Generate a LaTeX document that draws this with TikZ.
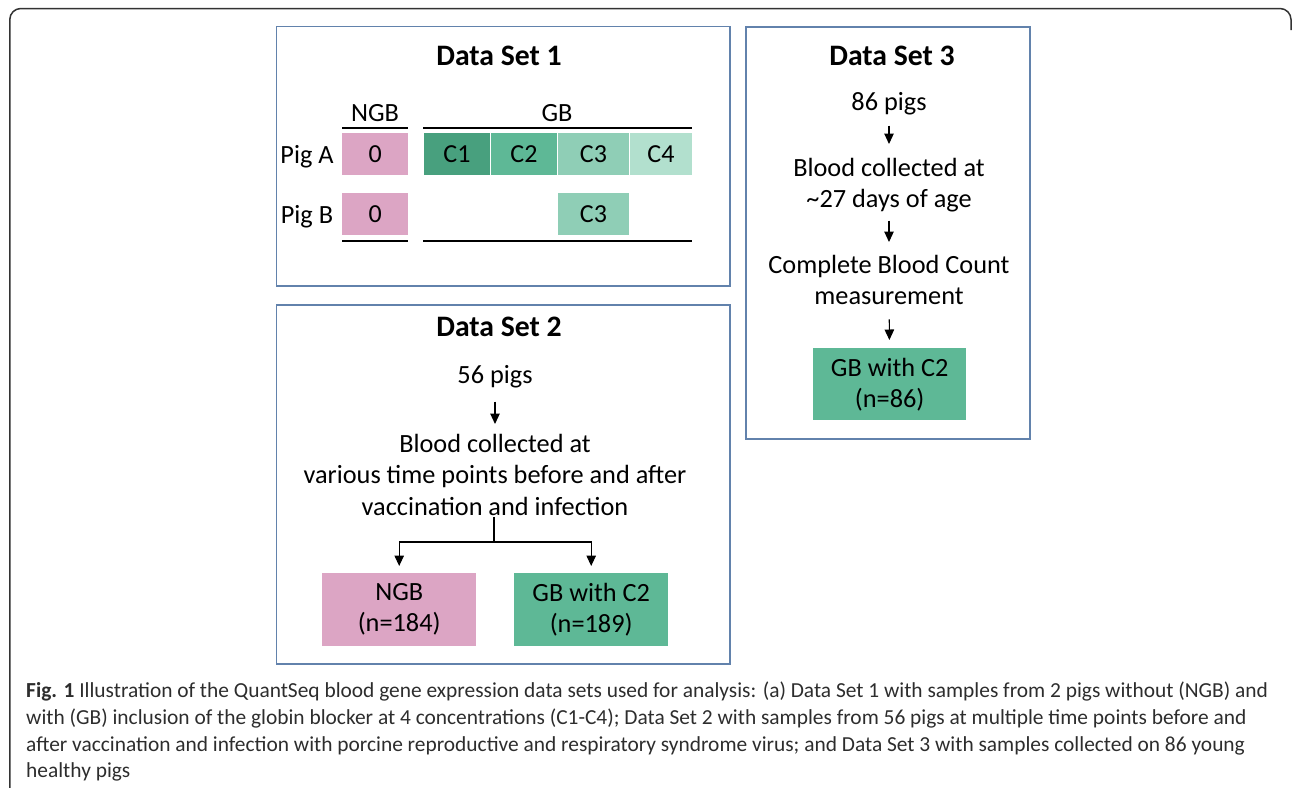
\documentclass[tikz,border=0pt]{standalone}
\usepackage{fontspec}
\setmainfont{Carlito}
\usetikzlibrary{arrows.meta,calc}
\definecolor{frameblue}{RGB}{98,130,172}
\definecolor{pinkc}{RGB}{220,165,196}
\definecolor{gone}{RGB}{72,160,126}
\definecolor{gtwo}{RGB}{94,184,150}
\definecolor{gthree}{RGB}{143,206,182}
\definecolor{gfour}{RGB}{178,224,206}
\definecolor{captext}{RGB}{45,45,45}
\begin{document}
\begin{tikzpicture}[x=1pt,y=-1pt,
  panel/.style={draw=frameblue, line width=1.6pt, fill=white, inner sep=0pt, anchor=north west},
  ttl/.style={font=\fontsize{29.7}{34}\selectfont\bfseries, inner sep=0pt},
  txt/.style={font=\fontsize{26.3}{31.5}\selectfont, inner sep=0pt, align=center},
  cell/.style={font=\fontsize{26}{31.5}\selectfont, inner sep=0pt, minimum height=42pt, anchor=north west},
  outbox/.style={font=\fontsize{26.3}{31}\selectfont, inner sep=0pt, align=center, minimum width=154pt, minimum height=73pt, anchor=north west},
  rulel/.style={line width=1.5pt},
  conn/.style={line width=1.1pt},
  arr/.style={line width=1.1pt, -{Triangle[length=10.5pt,width=9.5pt]}},
  captxt/.style={font=\fontsize{21.4}{26}\selectfont, text=captext, inner sep=0pt, anchor=base west}
]
\useasboundingbox (0,0) rectangle (1292,787);
% outer frame
\draw[line width=1.5pt, black!80, rounded corners=11pt] (9.8,800) -- (9.8,8.5) -- (1291,8.5) -- (1291,30);

% panels
\node[panel, minimum width=453.5pt, minimum height=259.5pt] (ds1) at (275.5,25.5) {};
\node[panel, minimum width=453.5pt, minimum height=359pt] (ds2) at (275.5,304) {};
\node[panel, minimum width=284pt, minimum height=412pt] (ds3) at (745,26) {};

% ---------------- Data Set 1 ----------------
\node[ttl] (t1) at (499,56) {Data Set 1};
\node[txt, anchor=base] (hngb) at (375,121) {NGB};
\node[txt, anchor=base] (hgb) at (557,121) {GB};
\node[txt, anchor=base] (pa) at (307,163) {Pig A};
\node[txt, anchor=base] (pb) at (307,223) {Pig B};
\draw[rulel] (342,128) -- (408,128);
\draw[rulel] (423,128) -- (692,128);
\draw[rulel] (342,241) -- (408,241);
\draw[rulel] (423,241) -- (692,241);
\node[cell, fill=pinkc, minimum width=66pt] (a0) at (342,133) {0};
\node[cell, fill=gone, minimum width=66.5pt] (a1) at (423.5,133) {C1};
\node[cell, fill=gtwo, minimum width=65.5pt] (a2) at (491,133) {C2};
\node[cell, fill=gthree, minimum width=71.5pt] (a3) at (557.5,133) {C3};
\node[cell, fill=gfour, minimum width=61.5pt] (a4) at (630,133) {C4};
\node[cell, fill=pinkc, minimum width=66pt] (b0) at (342,193) {0};
\node[cell, fill=gthree, minimum width=71.5pt] (b3c) at (557.5,193) {C3};

% ---------------- Data Set 2 ----------------
\node[ttl] (t2) at (499,327) {Data Set 2};
\node[txt, anchor=base] (p2) at (495,383) {56 pigs};
\node[txt, anchor=north] (b2) at (495,434) {Blood collected at\\various time points before and after\\vaccination and infection};
\node[outbox, fill=pinkc] (ngb2) at (322,573) {NGB\\(n=184)};
\node[outbox, fill=gtwo] (gb2) at (514,573) {GB with C2\\(n=189)};
\draw[arr, shorten <=14pt, shorten >=10pt] (p2) -- (b2);
\coordinate (br) at (494,542);
\draw[conn] (b2.south -| br) ++(0,1) -- (br);
\draw[arr, shorten >=7pt] (br) -| (ngb2.north);
\draw[arr, shorten >=7pt] (br) -| (gb2.north);

% ---------------- Data Set 3 ----------------
\node[ttl] (t3) at (892,56) {Data Set 3};
\node[txt, anchor=base] (p3) at (889,110) {86 pigs};
\node[txt, anchor=north] (b3) at (889,158) {Blood collected at\\\textasciitilde27 days of age};
\node[txt, anchor=north] (c3) at (889,255) {Complete Blood Count\\measurement};
\node[outbox, fill=gtwo, minimum width=153pt, minimum height=72pt] (g3) at (813,348) {GB with C2\\(n=86)};
\draw[arr, shorten <=11pt, shorten >=14pt] (p3) -- (b3);
\draw[arr, shorten <=8pt, shorten >=13pt] (b3) -- (c3);
\draw[arr, shorten <=14pt, shorten >=8pt] (c3) -- (g3);

% ---------------- caption ----------------
\node[captxt] (l1) at (26,697) {\textbf{Fig. 1} Illustration of the QuantSeq blood gene expression data sets used for analysis: (a) Data Set 1 with samples from 2 pigs without (NGB) and};
\node[captxt] (l2) at (26,724) {with (GB) inclusion of the globin blocker at 4 concentrations (C1-C4); Data Set 2 with samples from 56 pigs at multiple time points before and};
\node[captxt] (l3) at (26,751) {after vaccination and infection with porcine reproductive and respiratory syndrome virus; and Data Set 3 with samples collected on 86 young};
\node[captxt] (l4) at (26,777) {healthy pigs};
\end{tikzpicture}
\end{document}
